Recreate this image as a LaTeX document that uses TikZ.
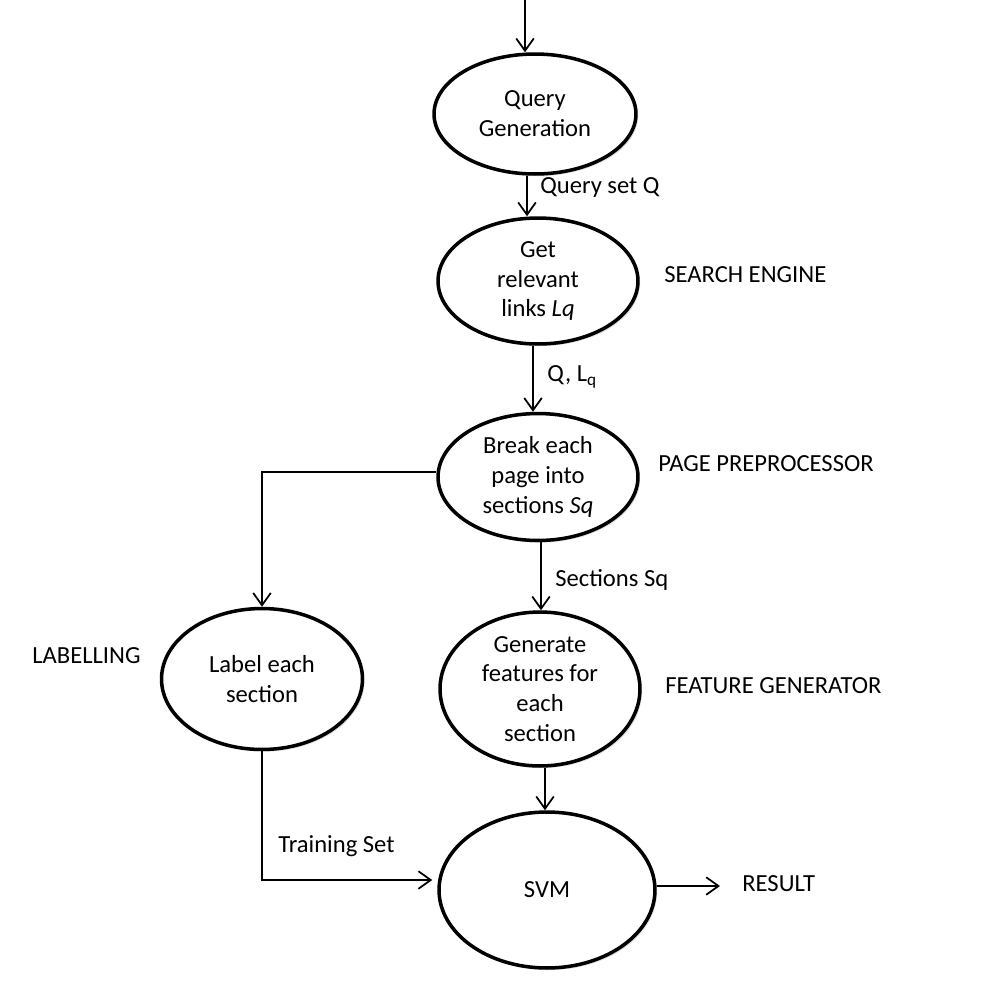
\documentclass[tikz,border=0pt]{standalone}
\usepackage{fontspec}
\setmainfont{Carlito}
\usetikzlibrary{shapes.geometric,arrows.meta,shadows,calc}

\tikzset{
  stage/.style={draw, ellipse, line width=2pt, fill=white, inner sep=0pt, align=center,
    drop shadow={shadow xshift=1.2pt, shadow yshift=-1.2pt, opacity=0.25}},
  flow/.style={-{Straight Barb[length=7pt,width=10pt]}, line width=1pt},
  note/.style={anchor=west, inner sep=0pt},
}

\begin{document}
\begin{tikzpicture}[x=0.02cm, y=-0.02cm, font=\fontsize{14}{17}\selectfont]
			\useasboundingbox (0,0) rectangle (984,985);
			% stages
			\node[stage, minimum width=4.04cm, minimum height=2.4cm] (qgen) at (535,114) {Query\\Generation};
			\node[stage, minimum width=4.0cm, minimum height=2.52cm] (links) at (538,281) {Get\\relevant\\links \textit{Lq}};
			\node[stage, minimum width=4.0cm, minimum height=2.54cm] (pages) at (538,477) {Break each\\page into\\sections \textit{Sq}};
			\node[stage, minimum width=4.02cm, minimum height=2.82cm] (label) at (262,679) {Label each\\section};
			\node[stage, minimum width=4.0cm, minimum height=3.08cm] (feat) at (540,689) {Generate\\features for\\each\\section};
			\node[stage, minimum width=4.32cm, minimum height=3.12cm] (svm) at (547,890) {SVM};
			% side texts
			\node[note] (tquery) at (540,187) {Query set Q};
			\node[note] (tsearch) at (664,275) {SEARCH ENGINE};
			\node[note] (tql) at (547,377) {Q, L\textsubscript{q}};
			\node[note] (tprep) at (658,464) {PAGE PREPROCESSOR};
			\node[note] (tsect) at (555,580) {Sections Sq};
			\node[note] (tlab) at (32,656) {LABELLING};
			\node[note] (tfeat) at (665,686) {FEATURE GENERATOR};
			\node[note] (ttrain) at (278,846) {Training Set};
			\node[note] (result) at (742,884) {RESULT};
			% connectors
			\coordinate (in) at (525,0);
			\coordinate (out) at (720,886);
			\draw[flow] (in) -- (in |- qgen.north);
			\draw[flow] ($(qgen.south)+(-8,0)$) -- ($(links.north)+(-11,0)$);
			\draw[flow] ($(links.south)+(-5,0)$) -- ($(pages.north)+(-5,0)$);
			\draw[flow] ($(pages.south)+(3,0)$) -- ($(feat.north)+(1,0)$);
			\draw[flow] ($(feat.south)+(5,0)$) -- ($(svm.north)+(-2,0)$);
			\draw[flow] ($(pages.west)+(0,-5)$) -| (label.north);
			\draw[flow] (label.south) |- ($(svm.west)+(-5,-10)$);
			\draw[flow] ($(svm.east)+(0,-4)$) -- (out);
		\end{tikzpicture}
\end{document}
